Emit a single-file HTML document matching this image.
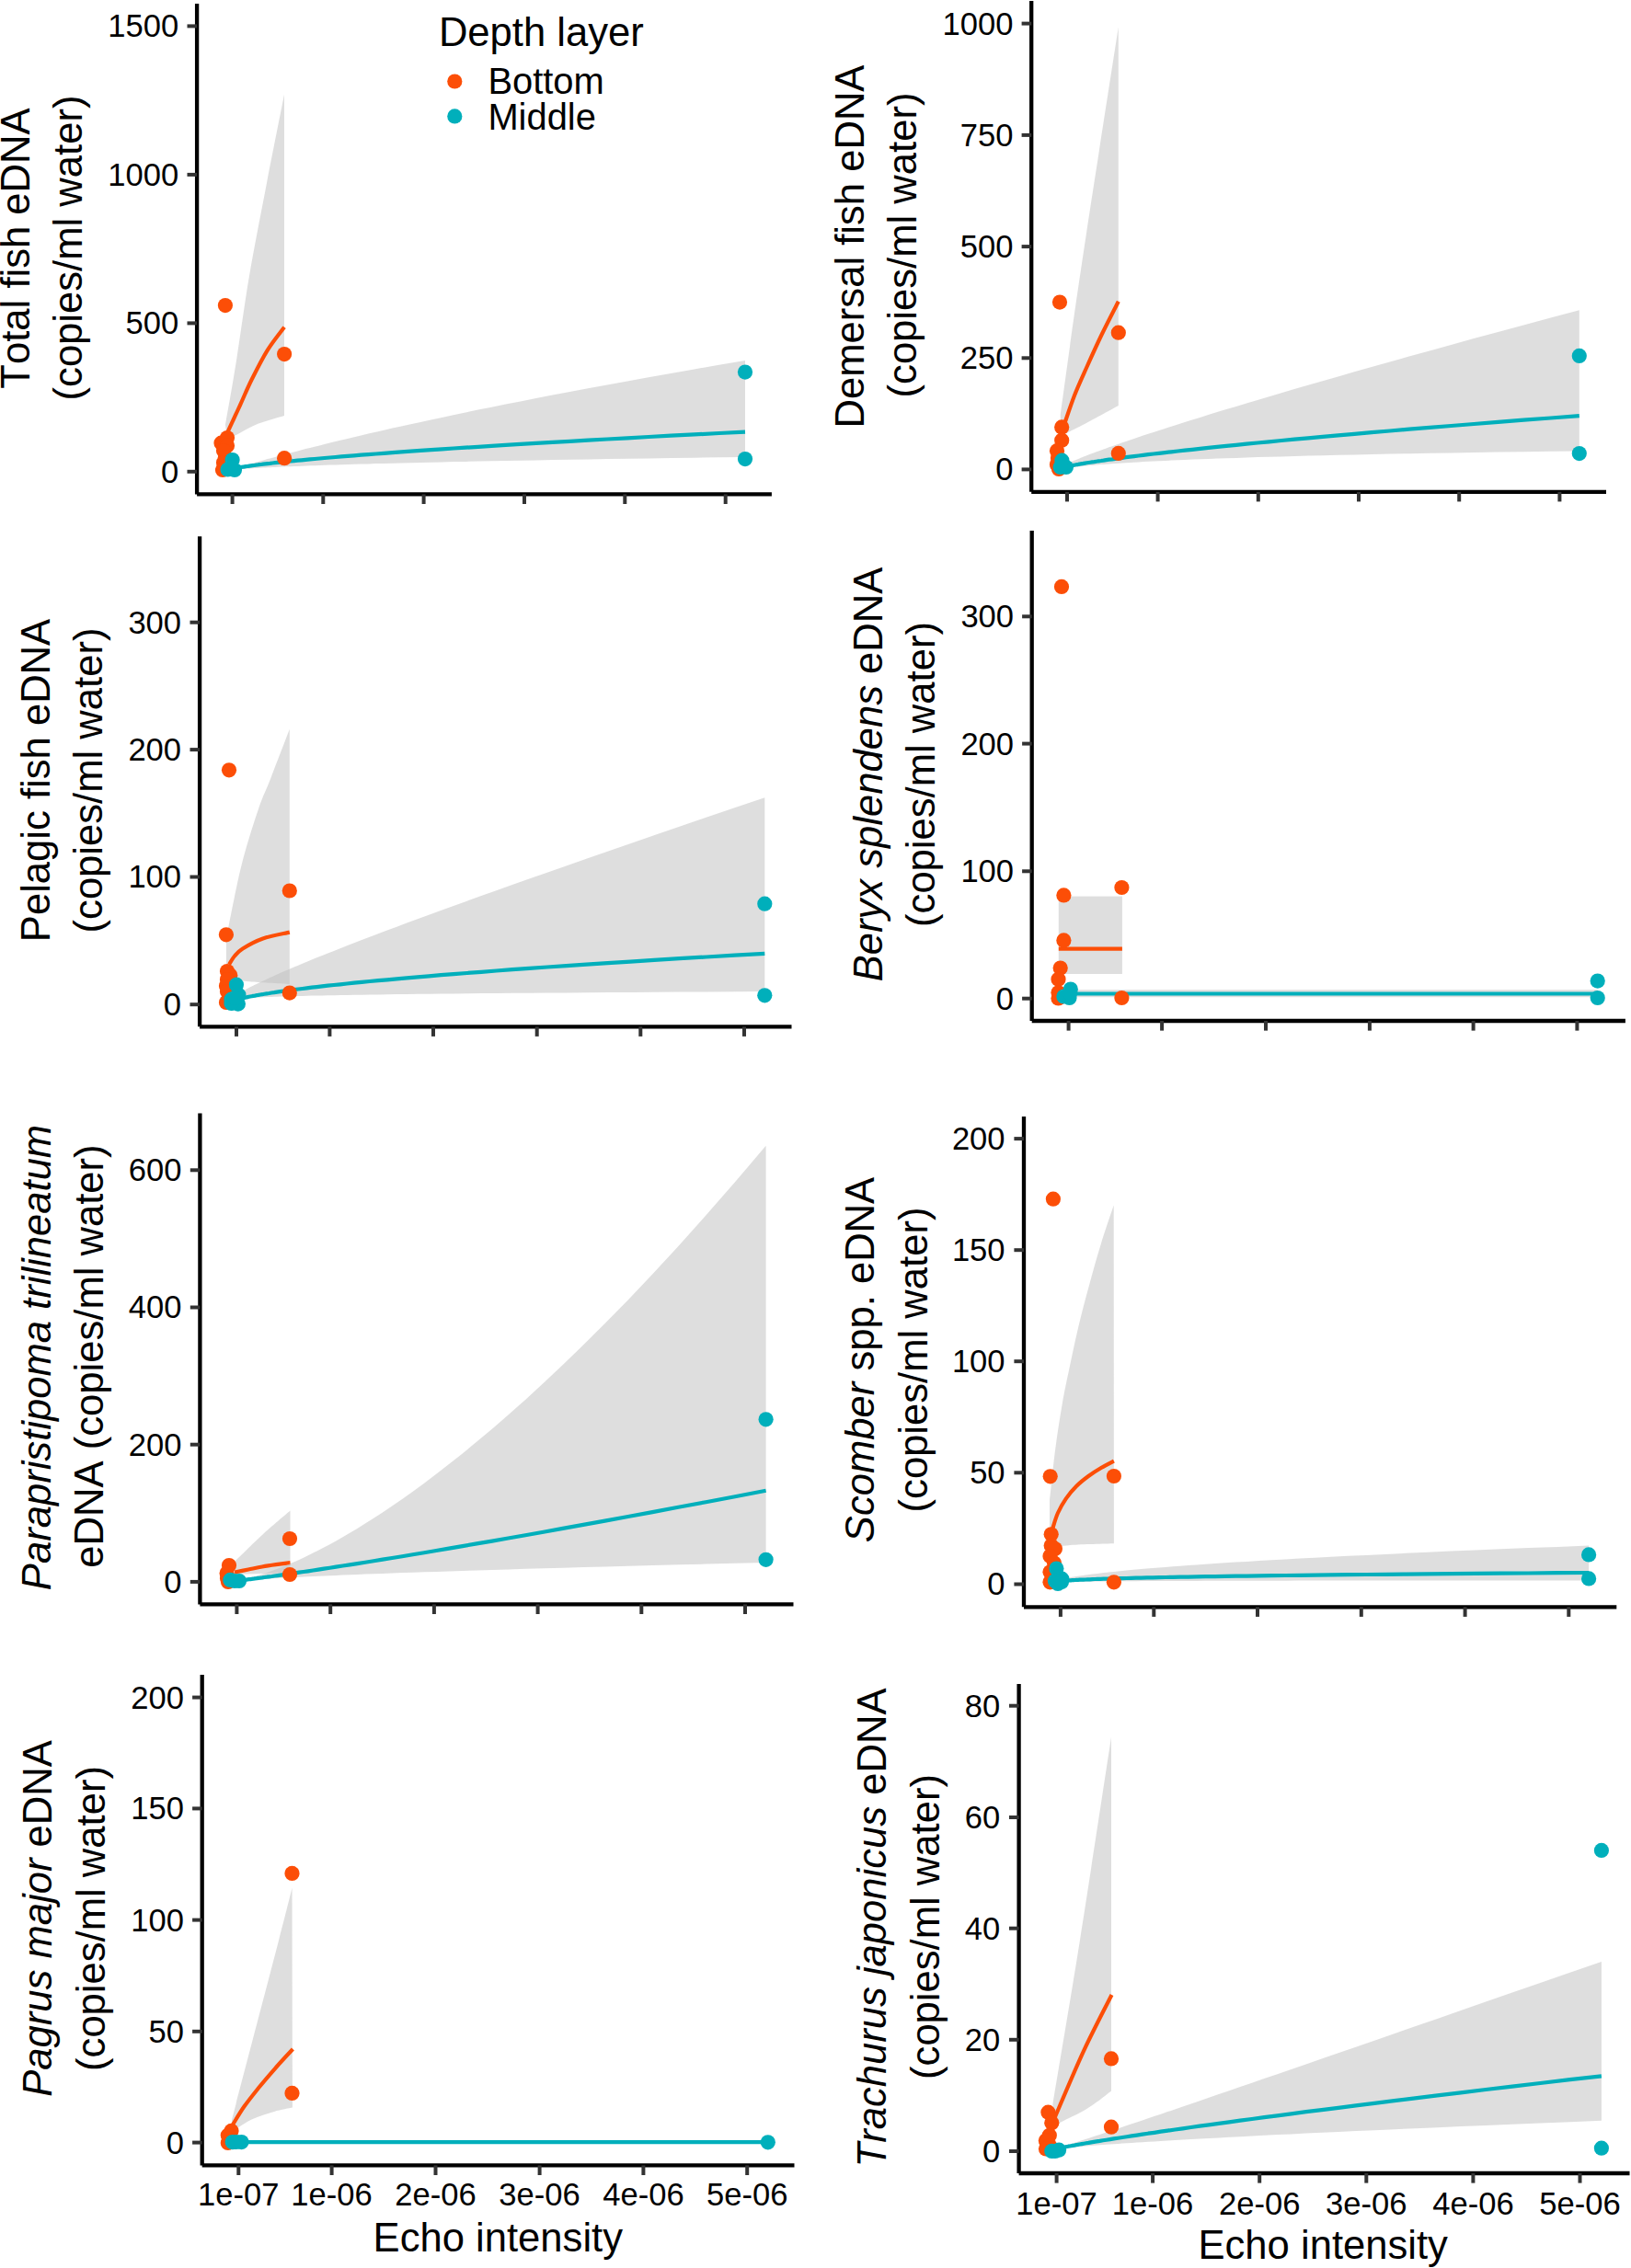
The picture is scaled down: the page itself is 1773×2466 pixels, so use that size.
<!DOCTYPE html>
<html lang="en">
<head>
<meta charset="utf-8">
<title>Fish eDNA vs echo intensity</title>
<style>
html,body{margin:0;padding:0;background:#fff;}
body{width:1773px;height:2466px;overflow:hidden;}
svg{display:block;font-kerning:none;}
</style>
</head>
<body>
<svg width="1773" height="2466" viewBox="0 0 1773 2466" font-family='"Liberation Sans", sans-serif' fill="#000">
<rect width="1773" height="2466" fill="#fff"/>
<g id="panel1">
<path d="M245 462 C247 450.3 252.7 419 257 392 C261.3 365 265.5 332.2 271 300 C276.5 267.8 283.7 231.8 290 199 C296.3 166.2 305.8 119 309 103 L309 452 C304.3 453.4 288.9 457.5 281 460.6 C273.1 463.7 267 467.6 261.3 470.5 C255.6 473.4 249.4 476.8 247 478 Z" fill="#BEBEBE" fill-opacity="0.5"/>
<path d="M246.6 471.7 C249.1 466.4 256.8 449.6 261.3 439.8 C265.8 430 268.7 422.6 273.6 412.8 C278.5 403 284.8 390.4 290.7 380.9 C296.6 371.4 306 359.9 309.1 355.7" fill="none" stroke="#FC4E07" stroke-width="4.2"/>
<path d="M252 510.2 L252.5 510 L253.1 509.9 L253.7 509.7 L254.3 509.5 L254.9 509.3 L255.6 509.1 L256.3 508.9 L257.1 508.7 L257.9 508.5 L258.7 508.2 L259.6 508 L260.5 507.7 L261.5 507.4 L262.5 507.1 L263.6 506.8 L264.7 506.5 L265.9 506.1 L267.2 505.8 L268.5 505.4 L269.9 505 L271.3 504.6 L272.9 504.2 L274.5 503.7 L276.2 503.2 L278 502.7 L279.9 502.2 L281.9 501.6 L283.9 501 L286.1 500.4 L288.5 499.8 L290.9 499.1 L293.5 498.4 L296.2 497.7 L299 496.9 L302 496.1 L305.1 495.2 L308.5 494.4 L311.9 493.4 L315.6 492.5 L319.5 491.5 L323.5 490.4 L327.8 489.3 L332.3 488.1 L337 486.9 L342 485.7 L347.3 484.4 L352.8 483 L358.6 481.6 L364.7 480.1 L371.1 478.5 L377.9 476.9 L385 475.2 L392.5 473.4 L400.4 471.6 L408.7 469.7 L417.4 467.7 L426.6 465.6 L436.3 463.5 L446.5 461.2 L457.2 458.9 L468.5 456.4 L480.4 453.9 L492.9 451.2 L506 448.5 L519.8 445.6 L534.4 442.7 L549.7 439.6 L565.8 436.4 L582.8 433 L600.7 429.6 L619.5 426 L639.3 422.3 L660.1 418.4 L682 414.4 L705 410.2 L729.3 405.9 L754.8 401.4 L781.7 396.8 L810 391.9 L810 497 L781.7 497.3 L754.8 497.7 L729.3 498.1 L705 498.4 L682 498.8 L660.1 499.1 L639.3 499.5 L619.5 499.8 L600.7 500.1 L582.8 500.4 L565.8 500.7 L549.7 501 L534.4 501.3 L519.8 501.6 L506 501.9 L492.9 502.1 L480.4 502.4 L468.5 502.7 L457.2 502.9 L446.5 503.2 L436.3 503.4 L426.6 503.7 L417.4 503.9 L408.7 504.1 L400.4 504.4 L392.5 504.6 L385 504.8 L377.9 505 L371.1 505.2 L364.7 505.4 L358.6 505.6 L352.8 505.8 L347.3 506 L342 506.2 L337 506.3 L332.3 506.5 L327.8 506.7 L323.5 506.9 L319.5 507 L315.6 507.2 L311.9 507.3 L308.5 507.5 L305.1 507.6 L302 507.8 L299 507.9 L296.2 508 L293.5 508.2 L290.9 508.3 L288.5 508.4 L286.1 508.6 L283.9 508.7 L281.9 508.8 L279.9 508.9 L278 509 L276.2 509.1 L274.5 509.2 L272.9 509.3 L271.3 509.4 L269.9 509.5 L268.5 509.6 L267.2 509.7 L265.9 509.8 L264.7 509.9 L263.6 510 L262.5 510.1 L261.5 510.1 L260.5 510.2 L259.6 510.3 L258.7 510.4 L257.9 510.4 L257.1 510.5 L256.3 510.6 L255.6 510.7 L254.9 510.7 L254.3 510.8 L253.7 510.8 L253.1 510.9 L252.5 511 L252 511 Z" fill="#BEBEBE" fill-opacity="0.5"/>
<path d="M252 509.7 L252.5 509.6 L253.1 509.5 L253.7 509.4 L254.3 509.3 L254.9 509.2 L255.6 509.1 L256.3 508.9 L257.1 508.8 L257.9 508.7 L258.7 508.5 L259.6 508.4 L260.5 508.2 L261.5 508.1 L262.5 507.9 L263.6 507.7 L264.7 507.6 L265.9 507.4 L267.2 507.2 L268.5 507 L269.9 506.8 L271.3 506.6 L272.9 506.4 L274.5 506.2 L276.2 506 L278 505.7 L279.9 505.5 L281.9 505.2 L283.9 505 L286.1 504.7 L288.5 504.4 L290.9 504.1 L293.5 503.9 L296.2 503.5 L299 503.2 L302 502.9 L305.1 502.6 L308.5 502.2 L311.9 501.9 L315.6 501.5 L319.5 501.1 L323.5 500.7 L327.8 500.3 L332.3 499.9 L337 499.4 L342 499 L347.3 498.5 L352.8 498 L358.6 497.5 L364.7 497 L371.1 496.4 L377.9 495.9 L385 495.3 L392.5 494.7 L400.4 494.1 L408.7 493.5 L417.4 492.8 L426.6 492.1 L436.3 491.4 L446.5 490.7 L457.2 489.9 L468.5 489.2 L480.4 488.4 L492.9 487.5 L506 486.7 L519.8 485.8 L534.4 484.9 L549.7 483.9 L565.8 482.9 L582.8 481.9 L600.7 480.9 L619.5 479.8 L639.3 478.6 L660.1 477.5 L682 476.3 L705 475 L729.3 473.7 L754.8 472.4 L781.7 471 L810 469.6" fill="none" stroke="#00AFBB" stroke-width="4.2" stroke-linejoin="round"/>
<circle cx="244.9" cy="332.1" r="8.1" fill="#FC4E07"/><circle cx="309.1" cy="385.1" r="8.1" fill="#FC4E07"/><circle cx="309.1" cy="498.2" r="8.1" fill="#FC4E07"/><circle cx="240.5" cy="481.7" r="8.1" fill="#FC4E07"/><circle cx="247" cy="476" r="8.1" fill="#FC4E07"/><circle cx="247" cy="484.4" r="8.1" fill="#FC4E07"/><circle cx="243" cy="490" r="8.1" fill="#FC4E07"/><circle cx="245" cy="497" r="8.1" fill="#FC4E07"/><circle cx="243" cy="503" r="8.1" fill="#FC4E07"/><circle cx="245" cy="508" r="8.1" fill="#FC4E07"/><circle cx="242" cy="511" r="8.1" fill="#FC4E07"/>
<circle cx="252.6" cy="500" r="8.1" fill="#00AFBB"/><circle cx="247.6" cy="510.5" r="8.1" fill="#00AFBB"/><circle cx="255" cy="511" r="8.1" fill="#00AFBB"/><circle cx="251" cy="508" r="8.1" fill="#00AFBB"/><circle cx="810" cy="404.6" r="8.1" fill="#00AFBB"/><circle cx="810" cy="499.1" r="8.1" fill="#00AFBB"/>
<line x1="214.1" y1="4" x2="214.1" y2="537.4" stroke="#000" stroke-width="4.3"/>
<line x1="214.1" y1="537.4" x2="838.9" y2="537.4" stroke="#000" stroke-width="4.3"/>
<line x1="203.5" y1="512.8" x2="214.1" y2="512.8" stroke="#333" stroke-width="4.0"/>
<line x1="203.5" y1="351.4" x2="214.1" y2="351.4" stroke="#333" stroke-width="4.0"/>
<line x1="203.5" y1="189.9" x2="214.1" y2="189.9" stroke="#333" stroke-width="4.0"/>
<line x1="203.5" y1="28.4" x2="214.1" y2="28.4" stroke="#333" stroke-width="4.0"/>
<line x1="252.6" y1="537.4" x2="252.6" y2="548" stroke="#333" stroke-width="4.0"/>
<line x1="351.3" y1="537.4" x2="351.3" y2="548" stroke="#333" stroke-width="4.0"/>
<line x1="460.6" y1="537.4" x2="460.6" y2="548" stroke="#333" stroke-width="4.0"/>
<line x1="570" y1="537.4" x2="570" y2="548" stroke="#333" stroke-width="4.0"/>
<line x1="679.3" y1="537.4" x2="679.3" y2="548" stroke="#333" stroke-width="4.0"/>
<line x1="788.7" y1="537.4" x2="788.7" y2="548" stroke="#333" stroke-width="4.0"/>
<text x="194.2" y="524.7" font-size="34.6" text-anchor="end">0</text>
<text x="194.2" y="363.3" font-size="34.6" text-anchor="end">500</text>
<text x="194.2" y="201.8" font-size="34.6" text-anchor="end">1000</text>
<text x="194.2" y="40.3" font-size="34.6" text-anchor="end">1500</text>
<text transform="translate(32 270) rotate(-90)" font-size="43.6" text-anchor="middle">Total fish eDNA</text>
<text transform="translate(89 269.5) rotate(-90)" font-size="43.6" text-anchor="middle">(copies/ml water)</text>
</g>
<g id="panel2">
<path d="M1152.7 452 C1154.4 439.5 1159.5 402.3 1163 377 C1166.5 351.7 1168.7 335.7 1174 300 C1179.3 264.3 1188 208.1 1195 163 C1202 117.9 1212.3 51.7 1215.8 29.4 L1215.8 441 C1210 444.2 1189.5 455.5 1181 460 C1172.5 464.5 1169.5 465.7 1165 468 C1160.5 470.3 1155.8 473 1154 474 Z" fill="#BEBEBE" fill-opacity="0.5"/>
<path d="M1156.9 461.5 C1158.8 456.2 1164 440.2 1168 430 C1172 419.8 1176 411.2 1181 400 C1186 388.8 1192.2 375 1198 363 C1203.8 351 1212.8 333.7 1215.8 327.8" fill="none" stroke="#FC4E07" stroke-width="4.2"/>
<path d="M1156 506.2 L1156.4 506 L1156.8 505.8 L1157.2 505.5 L1157.7 505.3 L1158.1 505.1 L1158.7 504.8 L1159.2 504.6 L1159.8 504.3 L1160.4 504 L1161 503.8 L1161.7 503.4 L1162.4 503.1 L1163.1 502.8 L1163.9 502.4 L1164.8 502.1 L1165.7 501.7 L1166.6 501.3 L1167.6 500.8 L1168.7 500.4 L1169.8 499.9 L1171 499.4 L1172.2 498.9 L1173.5 498.4 L1174.9 497.8 L1176.4 497.2 L1178 496.6 L1179.6 496 L1181.4 495.3 L1183.3 494.6 L1185.2 493.8 L1187.3 493 L1189.5 492.2 L1191.8 491.3 L1194.3 490.4 L1196.9 489.5 L1199.6 488.5 L1202.5 487.4 L1205.6 486.3 L1208.9 485.2 L1212.3 483.9 L1216 482.7 L1219.9 481.3 L1223.9 479.9 L1228.3 478.5 L1232.8 476.9 L1237.7 475.3 L1242.8 473.6 L1248.2 471.8 L1254 469.9 L1260 467.9 L1266.4 465.9 L1273.2 463.7 L1280.4 461.4 L1288 459 L1296 456.5 L1304.5 453.9 L1313.5 451.1 L1323.1 448.1 L1333.1 445.1 L1343.8 441.9 L1355.1 438.5 L1367 434.9 L1379.6 431.2 L1393 427.2 L1407.1 423.1 L1422 418.8 L1437.8 414.2 L1454.6 409.4 L1472.3 404.3 L1491 399 L1510.8 393.5 L1531.8 387.6 L1554 381.4 L1577.4 375 L1602.2 368.1 L1628.5 361 L1656.3 353.4 L1685.7 345.5 L1716.8 337.2 L1716.8 490.4 L1685.7 490.8 L1656.3 491.2 L1628.5 491.6 L1602.2 492 L1577.4 492.4 L1554 492.8 L1531.8 493.2 L1510.8 493.6 L1491 494 L1472.3 494.4 L1454.6 494.8 L1437.8 495.2 L1422 495.6 L1407.1 496 L1393 496.4 L1379.6 496.8 L1367 497.1 L1355.1 497.5 L1343.8 497.9 L1333.1 498.2 L1323.1 498.6 L1313.5 498.9 L1304.5 499.3 L1296 499.6 L1288 499.9 L1280.4 500.3 L1273.2 500.6 L1266.4 500.9 L1260 501.2 L1254 501.5 L1248.2 501.8 L1242.8 502.1 L1237.7 502.4 L1232.8 502.7 L1228.3 503 L1223.9 503.2 L1219.9 503.5 L1216 503.7 L1212.3 504 L1208.9 504.2 L1205.6 504.5 L1202.5 504.7 L1199.6 504.9 L1196.9 505.1 L1194.3 505.3 L1191.8 505.5 L1189.5 505.7 L1187.3 505.9 L1185.2 506.1 L1183.3 506.3 L1181.4 506.5 L1179.6 506.6 L1178 506.8 L1176.4 506.9 L1174.9 507.1 L1173.5 507.2 L1172.2 507.4 L1171 507.5 L1169.8 507.7 L1168.7 507.8 L1167.6 507.9 L1166.6 508 L1165.7 508.1 L1164.8 508.2 L1163.9 508.3 L1163.1 508.5 L1162.4 508.5 L1161.7 508.6 L1161 508.7 L1160.4 508.8 L1159.8 508.9 L1159.2 509 L1158.7 509 L1158.1 509.1 L1157.7 509.2 L1157.2 509.2 L1156.8 509.3 L1156.4 509.4 L1156 509.4 Z" fill="#BEBEBE" fill-opacity="0.5"/>
<path d="M1156 508.2 L1156.4 508.1 L1156.8 508 L1157.2 507.9 L1157.7 507.8 L1158.1 507.7 L1158.7 507.6 L1159.2 507.4 L1159.8 507.3 L1160.4 507.2 L1161 507 L1161.7 506.9 L1162.4 506.8 L1163.1 506.6 L1163.9 506.4 L1164.8 506.3 L1165.7 506.1 L1166.6 505.9 L1167.6 505.7 L1168.7 505.5 L1169.8 505.3 L1171 505.1 L1172.2 504.9 L1173.5 504.6 L1174.9 504.4 L1176.4 504.2 L1178 503.9 L1179.6 503.6 L1181.4 503.3 L1183.3 503 L1185.2 502.7 L1187.3 502.4 L1189.5 502.1 L1191.8 501.7 L1194.3 501.3 L1196.9 501 L1199.6 500.6 L1202.5 500.1 L1205.6 499.7 L1208.9 499.3 L1212.3 498.8 L1216 498.3 L1219.9 497.8 L1223.9 497.2 L1228.3 496.7 L1232.8 496.1 L1237.7 495.5 L1242.8 494.9 L1248.2 494.2 L1254 493.5 L1260 492.8 L1266.4 492.1 L1273.2 491.3 L1280.4 490.5 L1288 489.7 L1296 488.8 L1304.5 487.9 L1313.5 486.9 L1323.1 485.9 L1333.1 484.9 L1343.8 483.8 L1355.1 482.7 L1367 481.5 L1379.6 480.3 L1393 479 L1407.1 477.7 L1422 476.3 L1437.8 474.9 L1454.6 473.4 L1472.3 471.8 L1491 470.2 L1510.8 468.5 L1531.8 466.7 L1554 464.9 L1577.4 463 L1602.2 461 L1628.5 458.9 L1656.3 456.7 L1685.7 454.5 L1716.8 452.1" fill="none" stroke="#00AFBB" stroke-width="4.2" stroke-linejoin="round"/>
<circle cx="1152" cy="328.6" r="8.1" fill="#FC4E07"/><circle cx="1215.8" cy="361.7" r="8.1" fill="#FC4E07"/><circle cx="1215.8" cy="492.9" r="8.1" fill="#FC4E07"/><circle cx="1154.2" cy="464.4" r="8.1" fill="#FC4E07"/><circle cx="1154.2" cy="478.7" r="8.1" fill="#FC4E07"/><circle cx="1149" cy="490.2" r="8.1" fill="#FC4E07"/><circle cx="1150" cy="498" r="8.1" fill="#FC4E07"/><circle cx="1149" cy="505" r="8.1" fill="#FC4E07"/><circle cx="1151" cy="510" r="8.1" fill="#FC4E07"/>
<circle cx="1154.4" cy="500.7" r="8.1" fill="#00AFBB"/><circle cx="1158.9" cy="508" r="8.1" fill="#00AFBB"/><circle cx="1152.7" cy="508" r="8.1" fill="#00AFBB"/><circle cx="1716.8" cy="386.9" r="8.1" fill="#00AFBB"/><circle cx="1716.8" cy="493.1" r="8.1" fill="#00AFBB"/>
<line x1="1121.2" y1="1" x2="1121.2" y2="534.8" stroke="#000" stroke-width="4.3"/>
<line x1="1121.2" y1="534.8" x2="1746" y2="534.8" stroke="#000" stroke-width="4.3"/>
<line x1="1110.6" y1="510.4" x2="1121.2" y2="510.4" stroke="#333" stroke-width="4.0"/>
<line x1="1110.6" y1="389.3" x2="1121.2" y2="389.3" stroke="#333" stroke-width="4.0"/>
<line x1="1110.6" y1="268.1" x2="1121.2" y2="268.1" stroke="#333" stroke-width="4.0"/>
<line x1="1110.6" y1="146.9" x2="1121.2" y2="146.9" stroke="#333" stroke-width="4.0"/>
<line x1="1110.6" y1="25.6" x2="1121.2" y2="25.6" stroke="#333" stroke-width="4.0"/>
<line x1="1160" y1="534.8" x2="1160" y2="545.4" stroke="#333" stroke-width="4.0"/>
<line x1="1258.6" y1="534.8" x2="1258.6" y2="545.4" stroke="#333" stroke-width="4.0"/>
<line x1="1367.8" y1="534.8" x2="1367.8" y2="545.4" stroke="#333" stroke-width="4.0"/>
<line x1="1477" y1="534.8" x2="1477" y2="545.4" stroke="#333" stroke-width="4.0"/>
<line x1="1586.2" y1="534.8" x2="1586.2" y2="545.4" stroke="#333" stroke-width="4.0"/>
<line x1="1695.4" y1="534.8" x2="1695.4" y2="545.4" stroke="#333" stroke-width="4.0"/>
<text x="1101.4" y="522.3" font-size="34.6" text-anchor="end">0</text>
<text x="1101.4" y="401.2" font-size="34.6" text-anchor="end">250</text>
<text x="1101.4" y="280" font-size="34.6" text-anchor="end">500</text>
<text x="1101.4" y="158.8" font-size="34.6" text-anchor="end">750</text>
<text x="1101.4" y="37.5" font-size="34.6" text-anchor="end">1000</text>
<text transform="translate(938.8 268) rotate(-90)" font-size="43.6" text-anchor="middle">Demersal fish eDNA</text>
<text transform="translate(995.9 266.5) rotate(-90)" font-size="43.6" text-anchor="middle">(copies/ml water)</text>
</g>
<g id="panel3">
<path d="M245.9 1021.7 C246.8 1016.8 248.5 1006.3 251.5 992 C254.5 977.7 258.9 954.6 263.8 935.8 C268.7 917 275.9 894.4 281 879.4 C286.1 864.4 288.8 860.5 294.4 846 C300 831.5 311.4 801.6 314.8 792.7 L314.8 1070 C307.9 1069.6 285.1 1068.4 273.6 1067.5 C262.1 1066.6 250.5 1065.1 245.9 1064.6 Z" fill="#BEBEBE" fill-opacity="0.5"/>
<path d="M249 1048.7 C250 1047.2 252.5 1042.4 255 1039.5 C257.5 1036.6 258.7 1034.7 263.8 1031.5 C268.9 1028.3 277.3 1023.5 285.8 1020.5 C294.3 1017.5 310 1014.8 314.8 1013.6" fill="none" stroke="#FC4E07" stroke-width="4.2"/>
<path d="M252 1085.1 L252.4 1084.8 L252.8 1084.5 L253.2 1084.2 L253.6 1083.9 L254.1 1083.6 L254.6 1083.3 L255.1 1082.9 L255.6 1082.6 L256.2 1082.2 L256.9 1081.8 L257.5 1081.4 L258.2 1081 L258.9 1080.5 L259.7 1080.1 L260.5 1079.6 L261.4 1079.1 L262.4 1078.5 L263.3 1078 L264.4 1077.4 L265.5 1076.8 L266.6 1076.2 L267.9 1075.5 L269.2 1074.8 L270.6 1074.1 L272 1073.3 L273.6 1072.5 L275.2 1071.7 L277 1070.8 L278.8 1069.9 L280.8 1069 L282.9 1068 L285.1 1066.9 L287.4 1065.9 L289.9 1064.7 L292.5 1063.5 L295.2 1062.2 L298.1 1060.9 L301.2 1059.5 L304.5 1058.1 L308 1056.6 L311.7 1055 L315.6 1053.3 L319.7 1051.5 L324.1 1049.7 L328.7 1047.8 L333.6 1045.7 L338.8 1043.6 L344.3 1041.3 L350.2 1039 L356.4 1036.5 L362.9 1033.9 L369.8 1031.2 L377.2 1028.3 L384.9 1025.3 L393.2 1022.1 L401.9 1018.8 L411.1 1015.3 L420.9 1011.6 L431.3 1007.7 L442.2 1003.6 L453.9 999.3 L466.2 994.8 L479.2 990 L493 985 L507.7 979.7 L523.2 974.1 L539.6 968.2 L556.9 962.1 L575.3 955.5 L594.8 948.7 L615.5 941.4 L637.4 933.8 L660.5 925.7 L685.1 917.2 L711 908.3 L738.6 898.8 L767.7 888.8 L798.6 878.3 L831.3 867.2 L831.3 1078.1 L798.6 1078.3 L767.7 1078.4 L738.6 1078.6 L711 1078.8 L685.1 1078.9 L660.5 1079.1 L637.4 1079.2 L615.5 1079.4 L594.8 1079.5 L575.3 1079.7 L556.9 1079.8 L539.6 1080 L523.2 1080.1 L507.7 1080.3 L493 1080.4 L479.2 1080.6 L466.2 1080.7 L453.9 1080.8 L442.2 1081 L431.3 1081.1 L420.9 1081.3 L411.1 1081.4 L401.9 1081.5 L393.2 1081.7 L384.9 1081.8 L377.2 1081.9 L369.8 1082 L362.9 1082.2 L356.4 1082.3 L350.2 1082.4 L344.3 1082.5 L338.8 1082.6 L333.6 1082.8 L328.7 1082.9 L324.1 1083 L319.7 1083.1 L315.6 1083.2 L311.7 1083.3 L308 1083.4 L304.5 1083.6 L301.2 1083.7 L298.1 1083.8 L295.2 1083.9 L292.5 1084 L289.9 1084.1 L287.4 1084.2 L285.1 1084.3 L282.9 1084.4 L280.8 1084.5 L278.8 1084.6 L277 1084.7 L275.2 1084.8 L273.6 1084.9 L272 1085 L270.6 1085.1 L269.2 1085.2 L267.9 1085.2 L266.6 1085.3 L265.5 1085.4 L264.4 1085.5 L263.3 1085.6 L262.4 1085.7 L261.4 1085.8 L260.5 1085.8 L259.7 1085.9 L258.9 1086 L258.2 1086.1 L257.5 1086.2 L256.9 1086.3 L256.2 1086.3 L255.6 1086.4 L255.1 1086.5 L254.6 1086.6 L254.1 1086.6 L253.6 1086.7 L253.2 1086.8 L252.8 1086.8 L252.4 1086.9 L252 1087 Z" fill="#BEBEBE" fill-opacity="0.5"/>
<path d="M252 1088.5 L252.4 1088.4 L252.8 1088.3 L253.2 1088.1 L253.6 1088 L254.1 1087.8 L254.6 1087.7 L255.1 1087.5 L255.6 1087.4 L256.2 1087.2 L256.9 1087 L257.5 1086.8 L258.2 1086.6 L258.9 1086.4 L259.7 1086.2 L260.5 1086 L261.4 1085.8 L262.4 1085.6 L263.3 1085.4 L264.4 1085.1 L265.5 1084.9 L266.6 1084.6 L267.9 1084.4 L269.2 1084.1 L270.6 1083.8 L272 1083.5 L273.6 1083.2 L275.2 1082.9 L277 1082.6 L278.8 1082.2 L280.8 1081.9 L282.9 1081.5 L285.1 1081.2 L287.4 1080.8 L289.9 1080.4 L292.5 1080 L295.2 1079.5 L298.1 1079.1 L301.2 1078.6 L304.5 1078.2 L308 1077.7 L311.7 1077.2 L315.6 1076.6 L319.7 1076.1 L324.1 1075.5 L328.7 1075 L333.6 1074.4 L338.8 1073.7 L344.3 1073.1 L350.2 1072.4 L356.4 1071.7 L362.9 1071 L369.8 1070.3 L377.2 1069.5 L384.9 1068.7 L393.2 1067.9 L401.9 1067 L411.1 1066.2 L420.9 1065.3 L431.3 1064.3 L442.2 1063.3 L453.9 1062.3 L466.2 1061.3 L479.2 1060.2 L493 1059.1 L507.7 1058 L523.2 1056.8 L539.6 1055.5 L556.9 1054.2 L575.3 1052.9 L594.8 1051.5 L615.5 1050.1 L637.4 1048.7 L660.5 1047.1 L685.1 1045.6 L711 1043.9 L738.6 1042.2 L767.7 1040.5 L798.6 1038.7 L831.3 1036.8" fill="none" stroke="#00AFBB" stroke-width="4.2" stroke-linejoin="round"/>
<circle cx="249" cy="837.3" r="8.1" fill="#FC4E07"/><circle cx="314.8" cy="968.5" r="8.1" fill="#FC4E07"/><circle cx="245.9" cy="1016.3" r="8.1" fill="#FC4E07"/><circle cx="314.8" cy="1079.6" r="8.1" fill="#FC4E07"/><circle cx="247" cy="1056" r="8.1" fill="#FC4E07"/><circle cx="250.3" cy="1060.4" r="8.1" fill="#FC4E07"/><circle cx="247" cy="1065" r="8.1" fill="#FC4E07"/><circle cx="246" cy="1072" r="8.1" fill="#FC4E07"/><circle cx="247" cy="1078" r="8.1" fill="#FC4E07"/><circle cx="246" cy="1089.9" r="8.1" fill="#FC4E07"/>
<circle cx="256.9" cy="1070.7" r="8.1" fill="#00AFBB"/><circle cx="259.4" cy="1081.8" r="8.1" fill="#00AFBB"/><circle cx="251.5" cy="1086.7" r="8.1" fill="#00AFBB"/><circle cx="258.9" cy="1091.6" r="8.1" fill="#00AFBB"/><circle cx="251.5" cy="1091" r="8.1" fill="#00AFBB"/><circle cx="255" cy="1085" r="8.1" fill="#00AFBB"/><circle cx="831.3" cy="982.7" r="8.1" fill="#00AFBB"/><circle cx="831.3" cy="1082.3" r="8.1" fill="#00AFBB"/>
<line x1="217.1" y1="583.3" x2="217.1" y2="1116.3" stroke="#000" stroke-width="4.3"/>
<line x1="217.1" y1="1116.3" x2="860.5" y2="1116.3" stroke="#000" stroke-width="4.3"/>
<line x1="206.5" y1="1092.2" x2="217.1" y2="1092.2" stroke="#333" stroke-width="4.0"/>
<line x1="206.5" y1="953.5" x2="217.1" y2="953.5" stroke="#333" stroke-width="4.0"/>
<line x1="206.5" y1="815.1" x2="217.1" y2="815.1" stroke="#333" stroke-width="4.0"/>
<line x1="206.5" y1="676.7" x2="217.1" y2="676.7" stroke="#333" stroke-width="4.0"/>
<line x1="257" y1="1116.3" x2="257" y2="1126.9" stroke="#333" stroke-width="4.0"/>
<line x1="358.4" y1="1116.3" x2="358.4" y2="1126.9" stroke="#333" stroke-width="4.0"/>
<line x1="471" y1="1116.3" x2="471" y2="1126.9" stroke="#333" stroke-width="4.0"/>
<line x1="583.7" y1="1116.3" x2="583.7" y2="1126.9" stroke="#333" stroke-width="4.0"/>
<line x1="696.3" y1="1116.3" x2="696.3" y2="1126.9" stroke="#333" stroke-width="4.0"/>
<line x1="809" y1="1116.3" x2="809" y2="1126.9" stroke="#333" stroke-width="4.0"/>
<text x="197.1" y="1104.1" font-size="34.6" text-anchor="end">0</text>
<text x="197.1" y="965.4" font-size="34.6" text-anchor="end">100</text>
<text x="197.1" y="827" font-size="34.6" text-anchor="end">200</text>
<text x="197.1" y="688.6" font-size="34.6" text-anchor="end">300</text>
<text transform="translate(54.1 848.5) rotate(-90)" font-size="43.6" text-anchor="middle">Pelagic fish eDNA</text>
<text transform="translate(110.6 848.5) rotate(-90)" font-size="43.6" text-anchor="middle">(copies/ml water)</text>
</g>
<g id="panel4">
<rect x="1150.8" y="974.6" width="69.1" height="84.4" fill="#BEBEBE" fill-opacity="0.5"/>
<path d="M1150.8 1031.7 L1219.9 1031.7" fill="none" stroke="#FC4E07" stroke-width="4.2"/>
<rect x="1156" y="1076.2" width="580.7" height="8" fill="#BEBEBE" fill-opacity="0.5"/>
<path d="M1156 1080.5 L1736.7 1080.5" fill="none" stroke="#00AFBB" stroke-width="4.2"/>
<circle cx="1154" cy="637.9" r="8.1" fill="#FC4E07"/><circle cx="1156.4" cy="973.4" r="8.1" fill="#FC4E07"/><circle cx="1219.4" cy="965" r="8.1" fill="#FC4E07"/><circle cx="1156.4" cy="1022.4" r="8.1" fill="#FC4E07"/><circle cx="1152.7" cy="1052.6" r="8.1" fill="#FC4E07"/><circle cx="1150.5" cy="1064.8" r="8.1" fill="#FC4E07"/><circle cx="1150.5" cy="1079.3" r="8.1" fill="#FC4E07"/><circle cx="1150.5" cy="1085.4" r="8.1" fill="#FC4E07"/><circle cx="1219.4" cy="1085" r="8.1" fill="#FC4E07"/>
<circle cx="1163.8" cy="1075.6" r="8.1" fill="#00AFBB"/><circle cx="1156.4" cy="1083.5" r="8.1" fill="#00AFBB"/><circle cx="1162.5" cy="1085" r="8.1" fill="#00AFBB"/><circle cx="1163" cy="1080" r="8.1" fill="#00AFBB"/><circle cx="1736.7" cy="1066.6" r="8.1" fill="#00AFBB"/><circle cx="1736.7" cy="1085" r="8.1" fill="#00AFBB"/>
<line x1="1121.7" y1="576.9" x2="1121.7" y2="1110" stroke="#000" stroke-width="4.3"/>
<line x1="1121.7" y1="1110" x2="1766.9" y2="1110" stroke="#000" stroke-width="4.3"/>
<line x1="1111.1" y1="1085.7" x2="1121.7" y2="1085.7" stroke="#333" stroke-width="4.0"/>
<line x1="1111.1" y1="947.3" x2="1121.7" y2="947.3" stroke="#333" stroke-width="4.0"/>
<line x1="1111.1" y1="808.6" x2="1121.7" y2="808.6" stroke="#333" stroke-width="4.0"/>
<line x1="1111.1" y1="670.3" x2="1121.7" y2="670.3" stroke="#333" stroke-width="4.0"/>
<line x1="1161.6" y1="1110" x2="1161.6" y2="1120.6" stroke="#333" stroke-width="4.0"/>
<line x1="1263.1" y1="1110" x2="1263.1" y2="1120.6" stroke="#333" stroke-width="4.0"/>
<line x1="1376" y1="1110" x2="1376" y2="1120.6" stroke="#333" stroke-width="4.0"/>
<line x1="1488.9" y1="1110" x2="1488.9" y2="1120.6" stroke="#333" stroke-width="4.0"/>
<line x1="1601.6" y1="1110" x2="1601.6" y2="1120.6" stroke="#333" stroke-width="4.0"/>
<line x1="1714.4" y1="1110" x2="1714.4" y2="1120.6" stroke="#333" stroke-width="4.0"/>
<text x="1102.1" y="1097.6" font-size="34.6" text-anchor="end">0</text>
<text x="1102.1" y="959.2" font-size="34.6" text-anchor="end">100</text>
<text x="1102.1" y="820.5" font-size="34.6" text-anchor="end">200</text>
<text x="1102.1" y="682.2" font-size="34.6" text-anchor="end">300</text>
<text transform="translate(958.8 842) rotate(-90)" font-size="43.6" text-anchor="middle"><tspan font-style="italic">Beryx splendens</tspan> eDNA</text>
<text transform="translate(1016.2 842) rotate(-90)" font-size="43.6" text-anchor="middle">(copies/ml water)</text>
</g>
<g id="panel5">
<path d="M255 1698 C260 1693.2 274.9 1678.2 285 1669 C295.1 1659.8 310.4 1647 315.5 1642.6 L315.5 1710 L255 1712 Z" fill="#BEBEBE" fill-opacity="0.5"/>
<path d="M255 1709.5 C257.5 1709 265 1707.5 270 1706.5 C275 1705.5 280 1704.4 285 1703.5 C290 1702.6 294.9 1701.9 300 1701.2 C305.1 1700.5 312.9 1699.5 315.5 1699.2" fill="none" stroke="#FC4E07" stroke-width="4.2"/>
<path d="M252 1719.5 L252.3 1719.4 L252.7 1719.4 L253.1 1719.3 L253.5 1719.3 L253.9 1719.2 L254.3 1719.2 L254.8 1719.1 L255.3 1719 L255.9 1718.9 L256.4 1718.8 L257 1718.7 L257.7 1718.6 L258.4 1718.5 L259.1 1718.4 L259.8 1718.2 L260.7 1718.1 L261.5 1717.9 L262.4 1717.7 L263.4 1717.5 L264.4 1717.3 L265.5 1717.1 L266.7 1716.8 L267.9 1716.5 L269.2 1716.2 L270.6 1715.8 L272.1 1715.5 L273.6 1715 L275.3 1714.6 L277 1714.1 L278.9 1713.6 L280.9 1713 L282.9 1712.3 L285.2 1711.6 L287.5 1710.8 L290 1710 L292.7 1709.1 L295.5 1708.1 L298.5 1707 L301.6 1705.8 L305 1704.5 L308.5 1703.1 L312.3 1701.5 L316.3 1699.8 L320.6 1697.9 L325.1 1695.9 L329.9 1693.7 L334.9 1691.3 L340.3 1688.6 L346 1685.7 L352.1 1682.6 L358.5 1679.2 L365.3 1675.4 L372.6 1671.3 L380.3 1666.8 L388.4 1661.9 L397 1656.6 L406.2 1650.8 L415.9 1644.4 L426.2 1637.5 L437.2 1629.9 L448.8 1621.7 L461.1 1612.7 L474.2 1602.8 L488 1592.1 L502.7 1580.4 L518.3 1567.6 L534.9 1553.7 L552.4 1538.5 L571.1 1521.9 L590.8 1503.8 L611.8 1484 L634 1462.5 L657.6 1439 L682.7 1413.4 L709.2 1385.4 L737.4 1354.9 L767.3 1321.6 L799 1285.3 L832.6 1245.8 L832.6 1699 L799 1699.8 L767.3 1700.6 L737.4 1701.3 L709.2 1702 L682.7 1702.7 L657.6 1703.4 L634 1704 L611.8 1704.7 L590.8 1705.2 L571.1 1705.8 L552.4 1706.4 L534.9 1706.9 L518.3 1707.4 L502.7 1707.9 L488 1708.4 L474.2 1708.9 L461.1 1709.3 L448.8 1709.7 L437.2 1710.1 L426.2 1710.5 L415.9 1710.9 L406.2 1711.3 L397 1711.6 L388.4 1712 L380.3 1712.3 L372.6 1712.6 L365.3 1712.9 L358.5 1713.2 L352.1 1713.5 L346 1713.7 L340.3 1714 L334.9 1714.3 L329.9 1714.5 L325.1 1714.7 L320.6 1714.9 L316.3 1715.1 L312.3 1715.4 L308.5 1715.5 L305 1715.7 L301.6 1715.9 L298.5 1716.1 L295.5 1716.2 L292.7 1716.4 L290 1716.6 L287.5 1716.7 L285.2 1716.8 L282.9 1717 L280.9 1717.1 L278.9 1717.2 L277 1717.3 L275.3 1717.5 L273.6 1717.6 L272.1 1717.7 L270.6 1717.8 L269.2 1717.9 L267.9 1718 L266.7 1718 L265.5 1718.1 L264.4 1718.2 L263.4 1718.3 L262.4 1718.4 L261.5 1718.4 L260.7 1718.5 L259.8 1718.6 L259.1 1718.6 L258.4 1718.7 L257.7 1718.7 L257 1718.8 L256.4 1718.8 L255.9 1718.9 L255.3 1718.9 L254.8 1719 L254.3 1719 L253.9 1719.1 L253.5 1719.1 L253.1 1719.1 L252.7 1719.2 L252.3 1719.2 L252 1719.2 Z" fill="#BEBEBE" fill-opacity="0.5"/>
<path d="M252 1719.4 L252.3 1719.4 L252.7 1719.3 L253.1 1719.3 L253.5 1719.2 L253.9 1719.2 L254.3 1719.2 L254.8 1719.1 L255.3 1719 L255.9 1719 L256.4 1718.9 L257 1718.9 L257.7 1718.8 L258.4 1718.7 L259.1 1718.6 L259.8 1718.5 L260.7 1718.4 L261.5 1718.3 L262.4 1718.2 L263.4 1718.1 L264.4 1718 L265.5 1717.9 L266.7 1717.7 L267.9 1717.6 L269.2 1717.4 L270.6 1717.2 L272.1 1717.1 L273.6 1716.9 L275.3 1716.7 L277 1716.4 L278.9 1716.2 L280.9 1715.9 L282.9 1715.7 L285.2 1715.4 L287.5 1715 L290 1714.7 L292.7 1714.3 L295.5 1714 L298.5 1713.5 L301.6 1713.1 L305 1712.6 L308.5 1712.1 L312.3 1711.6 L316.3 1711 L320.6 1710.4 L325.1 1709.7 L329.9 1709 L334.9 1708.3 L340.3 1707.5 L346 1706.6 L352.1 1705.7 L358.5 1704.7 L365.3 1703.7 L372.6 1702.5 L380.3 1701.3 L388.4 1700.1 L397 1698.7 L406.2 1697.2 L415.9 1695.6 L426.2 1694 L437.2 1692.2 L448.8 1690.2 L461.1 1688.2 L474.2 1686 L488 1683.6 L502.7 1681.1 L518.3 1678.4 L534.9 1675.6 L552.4 1672.5 L571.1 1669.2 L590.8 1665.7 L611.8 1661.9 L634 1657.9 L657.6 1653.6 L682.7 1649 L709.2 1644.1 L737.4 1638.8 L767.3 1633.2 L799 1627.2 L832.6 1620.8" fill="none" stroke="#00AFBB" stroke-width="4.2" stroke-linejoin="round"/>
<circle cx="315" cy="1673" r="8.1" fill="#FC4E07"/><circle cx="315" cy="1712" r="8.1" fill="#FC4E07"/><circle cx="249" cy="1702" r="8.1" fill="#FC4E07"/><circle cx="246.6" cy="1710.5" r="8.1" fill="#FC4E07"/><circle cx="247" cy="1716" r="8.1" fill="#FC4E07"/><circle cx="248" cy="1720" r="8.1" fill="#FC4E07"/>
<circle cx="250.3" cy="1717.9" r="8.1" fill="#00AFBB"/><circle cx="260" cy="1719" r="8.1" fill="#00AFBB"/><circle cx="255" cy="1719" r="8.1" fill="#00AFBB"/><circle cx="832.6" cy="1543.3" r="8.1" fill="#00AFBB"/><circle cx="832.6" cy="1695.8" r="8.1" fill="#00AFBB"/>
<line x1="217.4" y1="1210.6" x2="217.4" y2="1744.4" stroke="#000" stroke-width="4.3"/>
<line x1="217.4" y1="1744.4" x2="862.5" y2="1744.4" stroke="#000" stroke-width="4.3"/>
<line x1="206.8" y1="1719.9" x2="217.4" y2="1719.9" stroke="#333" stroke-width="4.0"/>
<line x1="206.8" y1="1570.7" x2="217.4" y2="1570.7" stroke="#333" stroke-width="4.0"/>
<line x1="206.8" y1="1421.5" x2="217.4" y2="1421.5" stroke="#333" stroke-width="4.0"/>
<line x1="206.8" y1="1272.3" x2="217.4" y2="1272.3" stroke="#333" stroke-width="4.0"/>
<line x1="257.4" y1="1744.4" x2="257.4" y2="1755" stroke="#333" stroke-width="4.0"/>
<line x1="359.2" y1="1744.4" x2="359.2" y2="1755" stroke="#333" stroke-width="4.0"/>
<line x1="471.9" y1="1744.4" x2="471.9" y2="1755" stroke="#333" stroke-width="4.0"/>
<line x1="584.6" y1="1744.4" x2="584.6" y2="1755" stroke="#333" stroke-width="4.0"/>
<line x1="697.3" y1="1744.4" x2="697.3" y2="1755" stroke="#333" stroke-width="4.0"/>
<line x1="810" y1="1744.4" x2="810" y2="1755" stroke="#333" stroke-width="4.0"/>
<text x="197.4" y="1731.8" font-size="34.6" text-anchor="end">0</text>
<text x="197.4" y="1582.6" font-size="34.6" text-anchor="end">200</text>
<text x="197.4" y="1433.4" font-size="34.6" text-anchor="end">400</text>
<text x="197.4" y="1284.2" font-size="34.6" text-anchor="end">600</text>
<text transform="translate(54.7 1476) rotate(-90)" font-size="43.6" text-anchor="middle"><tspan font-style="italic">Parapristipoma trilineatum</tspan></text>
<text transform="translate(112.1 1474.5) rotate(-90)" font-size="43.6" text-anchor="middle">eDNA (copies/ml water)</text>
</g>
<g id="panel6">
<path d="M1141 1632 C1142 1623 1144.7 1595.2 1146.9 1578 C1149.1 1560.8 1151.8 1543.7 1154.3 1529 C1156.8 1514.3 1159 1504.2 1162 1490 C1165 1475.8 1168.3 1459.7 1172 1444 C1175.7 1428.3 1180.2 1411.3 1184.4 1396 C1188.6 1380.7 1192.6 1366.3 1197 1352 C1201.4 1337.7 1208.4 1317.3 1210.7 1310.4 L1210.9 1678.2 C1203 1678.5 1175.2 1679 1163.6 1679.9 C1151.9 1680.8 1144.8 1682.9 1141 1683.5 Z" fill="#BEBEBE" fill-opacity="0.5"/>
<path d="M1144.4 1661.5 C1145.3 1658.8 1147.6 1650.3 1150 1645 C1152.4 1639.7 1155.4 1634.4 1158.7 1629.6 C1162 1624.8 1165.9 1620.1 1170 1616 C1174.1 1611.9 1178.7 1608.3 1183.2 1605 C1187.7 1601.7 1192.4 1598.7 1197 1596 C1201.6 1593.3 1208.6 1589.8 1210.9 1588.6" fill="none" stroke="#FC4E07" stroke-width="4.2"/>
<path d="M1147 1719 L1147.3 1718.9 L1147.7 1718.7 L1148.1 1718.6 L1148.5 1718.5 L1148.9 1718.4 L1149.3 1718.2 L1149.8 1718.1 L1150.3 1718 L1150.8 1717.8 L1151.4 1717.7 L1152 1717.5 L1152.6 1717.4 L1153.3 1717.2 L1154 1717 L1154.8 1716.8 L1155.6 1716.7 L1156.5 1716.5 L1157.4 1716.3 L1158.3 1716.1 L1159.4 1715.9 L1160.4 1715.7 L1161.6 1715.5 L1162.8 1715.2 L1164.1 1715 L1165.5 1714.8 L1167 1714.5 L1168.5 1714.3 L1170.1 1714 L1171.9 1713.7 L1173.7 1713.4 L1175.7 1713.2 L1177.8 1712.9 L1180 1712.6 L1182.3 1712.2 L1184.8 1711.9 L1187.5 1711.6 L1190.3 1711.2 L1193.2 1710.9 L1196.4 1710.5 L1199.7 1710.1 L1203.3 1709.7 L1207.1 1709.3 L1211 1708.9 L1215.3 1708.5 L1219.8 1708 L1224.6 1707.6 L1229.6 1707.1 L1235 1706.6 L1240.7 1706.1 L1246.7 1705.6 L1253.1 1705 L1260 1704.5 L1267.2 1703.9 L1274.8 1703.3 L1283 1702.7 L1291.6 1702.1 L1300.7 1701.4 L1310.5 1700.8 L1320.8 1700.1 L1331.7 1699.3 L1343.3 1698.6 L1355.6 1697.9 L1368.6 1697.1 L1382.5 1696.3 L1397.2 1695.4 L1412.8 1694.6 L1429.3 1693.7 L1446.9 1692.8 L1465.5 1691.8 L1485.2 1690.9 L1506.2 1689.9 L1528.4 1688.8 L1552 1687.8 L1577.1 1686.6 L1603.6 1685.5 L1631.8 1684.3 L1661.7 1683.1 L1693.4 1681.9 L1727.1 1680.6 L1727.1 1718.4 L1693.4 1718.4 L1661.7 1718.4 L1631.8 1718.4 L1603.6 1718.5 L1577.1 1718.5 L1552 1718.5 L1528.4 1718.5 L1506.2 1718.5 L1485.2 1718.5 L1465.5 1718.6 L1446.9 1718.6 L1429.3 1718.6 L1412.8 1718.6 L1397.2 1718.7 L1382.5 1718.7 L1368.6 1718.7 L1355.6 1718.7 L1343.3 1718.8 L1331.7 1718.8 L1320.8 1718.8 L1310.5 1718.8 L1300.7 1718.9 L1291.6 1718.9 L1283 1718.9 L1274.8 1719 L1267.2 1719 L1260 1719 L1253.1 1719.1 L1246.7 1719.1 L1240.7 1719.1 L1235 1719.2 L1229.6 1719.2 L1224.6 1719.2 L1219.8 1719.3 L1215.3 1719.3 L1211 1719.4 L1207.1 1719.4 L1203.3 1719.4 L1199.7 1719.5 L1196.4 1719.5 L1193.2 1719.5 L1190.3 1719.6 L1187.5 1719.6 L1184.8 1719.7 L1182.3 1719.7 L1180 1719.7 L1177.8 1719.8 L1175.7 1719.8 L1173.7 1719.9 L1171.9 1719.9 L1170.1 1719.9 L1168.5 1720 L1167 1720 L1165.5 1720.1 L1164.1 1720.1 L1162.8 1720.1 L1161.6 1720.2 L1160.4 1720.2 L1159.4 1720.3 L1158.3 1720.3 L1157.4 1720.3 L1156.5 1720.4 L1155.6 1720.4 L1154.8 1720.5 L1154 1720.5 L1153.3 1720.5 L1152.6 1720.6 L1152 1720.6 L1151.4 1720.6 L1150.8 1720.7 L1150.3 1720.7 L1149.8 1720.8 L1149.3 1720.8 L1148.9 1720.8 L1148.5 1720.9 L1148.1 1720.9 L1147.7 1720.9 L1147.3 1721 L1147 1721 Z" fill="#BEBEBE" fill-opacity="0.5"/>
<path d="M1147 1719.9 L1147.3 1719.8 L1147.7 1719.8 L1148.1 1719.7 L1148.5 1719.7 L1148.9 1719.6 L1149.3 1719.5 L1149.8 1719.5 L1150.3 1719.4 L1150.8 1719.4 L1151.4 1719.3 L1152 1719.2 L1152.6 1719.2 L1153.3 1719.1 L1154 1719 L1154.8 1719 L1155.6 1718.9 L1156.5 1718.8 L1157.4 1718.7 L1158.3 1718.7 L1159.4 1718.6 L1160.4 1718.5 L1161.6 1718.4 L1162.8 1718.4 L1164.1 1718.3 L1165.5 1718.2 L1167 1718.1 L1168.5 1718 L1170.1 1717.9 L1171.9 1717.8 L1173.7 1717.7 L1175.7 1717.6 L1177.8 1717.6 L1180 1717.5 L1182.3 1717.4 L1184.8 1717.3 L1187.5 1717.1 L1190.3 1717 L1193.2 1716.9 L1196.4 1716.8 L1199.7 1716.7 L1203.3 1716.6 L1207.1 1716.5 L1211 1716.4 L1215.3 1716.2 L1219.8 1716.1 L1224.6 1716 L1229.6 1715.8 L1235 1715.7 L1240.7 1715.6 L1246.7 1715.4 L1253.1 1715.3 L1260 1715.2 L1267.2 1715 L1274.8 1714.9 L1283 1714.7 L1291.6 1714.6 L1300.7 1714.4 L1310.5 1714.2 L1320.8 1714.1 L1331.7 1713.9 L1343.3 1713.7 L1355.6 1713.6 L1368.6 1713.4 L1382.5 1713.2 L1397.2 1713 L1412.8 1712.8 L1429.3 1712.6 L1446.9 1712.4 L1465.5 1712.2 L1485.2 1712 L1506.2 1711.8 L1528.4 1711.6 L1552 1711.4 L1577.1 1711.2 L1603.6 1710.9 L1631.8 1710.7 L1661.7 1710.5 L1693.4 1710.2 L1727.1 1710" fill="none" stroke="#00AFBB" stroke-width="4.2" stroke-linejoin="round"/>
<circle cx="1144.9" cy="1303.7" r="8.1" fill="#FC4E07"/><circle cx="1141.7" cy="1605.3" r="8.1" fill="#FC4E07"/><circle cx="1210.9" cy="1605" r="8.1" fill="#FC4E07"/><circle cx="1210.9" cy="1720.3" r="8.1" fill="#FC4E07"/><circle cx="1142.7" cy="1668.3" r="8.1" fill="#FC4E07"/><circle cx="1142.7" cy="1680.6" r="8.1" fill="#FC4E07"/><circle cx="1146.9" cy="1684" r="8.1" fill="#FC4E07"/><circle cx="1141.5" cy="1692" r="8.1" fill="#FC4E07"/><circle cx="1146" cy="1699.5" r="8.1" fill="#FC4E07"/><circle cx="1141.5" cy="1709.3" r="8.1" fill="#FC4E07"/><circle cx="1141.5" cy="1720.3" r="8.1" fill="#FC4E07"/>
<circle cx="1148.4" cy="1705.6" r="8.1" fill="#00AFBB"/><circle cx="1154.3" cy="1716.7" r="8.1" fill="#00AFBB"/><circle cx="1146.9" cy="1719" r="8.1" fill="#00AFBB"/><circle cx="1154" cy="1720" r="8.1" fill="#00AFBB"/><circle cx="1150" cy="1722" r="8.1" fill="#00AFBB"/><circle cx="1727.1" cy="1690.4" r="8.1" fill="#00AFBB"/><circle cx="1727.1" cy="1716.4" r="8.1" fill="#00AFBB"/>
<line x1="1113" y1="1214" x2="1113" y2="1747.3" stroke="#000" stroke-width="4.3"/>
<line x1="1113" y1="1747.3" x2="1757.3" y2="1747.3" stroke="#000" stroke-width="4.3"/>
<line x1="1102.4" y1="1722.5" x2="1113" y2="1722.5" stroke="#333" stroke-width="4.0"/>
<line x1="1102.4" y1="1601.3" x2="1113" y2="1601.3" stroke="#333" stroke-width="4.0"/>
<line x1="1102.4" y1="1480.2" x2="1113" y2="1480.2" stroke="#333" stroke-width="4.0"/>
<line x1="1102.4" y1="1359.2" x2="1113" y2="1359.2" stroke="#333" stroke-width="4.0"/>
<line x1="1102.4" y1="1238.1" x2="1113" y2="1238.1" stroke="#333" stroke-width="4.0"/>
<line x1="1152.9" y1="1747.3" x2="1152.9" y2="1757.9" stroke="#333" stroke-width="4.0"/>
<line x1="1254.3" y1="1747.3" x2="1254.3" y2="1757.9" stroke="#333" stroke-width="4.0"/>
<line x1="1367" y1="1747.3" x2="1367" y2="1757.9" stroke="#333" stroke-width="4.0"/>
<line x1="1479.8" y1="1747.3" x2="1479.8" y2="1757.9" stroke="#333" stroke-width="4.0"/>
<line x1="1592.6" y1="1747.3" x2="1592.6" y2="1757.9" stroke="#333" stroke-width="4.0"/>
<line x1="1705.3" y1="1747.3" x2="1705.3" y2="1757.9" stroke="#333" stroke-width="4.0"/>
<text x="1092.6" y="1734.4" font-size="34.6" text-anchor="end">0</text>
<text x="1092.6" y="1613.2" font-size="34.6" text-anchor="end">50</text>
<text x="1092.6" y="1492.1" font-size="34.6" text-anchor="end">100</text>
<text x="1092.6" y="1371.1" font-size="34.6" text-anchor="end">150</text>
<text x="1092.6" y="1250" font-size="34.6" text-anchor="end">200</text>
<text transform="translate(950 1478.5) rotate(-90)" font-size="43.6" text-anchor="middle"><tspan font-style="italic">Scomber</tspan> spp. eDNA</text>
<text transform="translate(1007.7 1478.5) rotate(-90)" font-size="43.6" text-anchor="middle">(copies/ml water)</text>
</g>
<g id="panel7">
<path d="M252 2305 C260.5 2272.5 292.1 2152 303 2110 C313.9 2068 315.1 2062.3 317.5 2052.8 L317.9 2291.6 C314.6 2292.3 305.4 2293.8 298 2296 C290.6 2298.2 281.3 2300.9 273.6 2304.6 C265.9 2308.3 255.6 2315.8 252 2318 Z" fill="#BEBEBE" fill-opacity="0.5"/>
<path d="M252.7 2310.7 C254.8 2307.4 260.3 2297.7 265 2291 C269.7 2284.3 275.2 2277.5 281 2270.3 C286.8 2263.1 293.8 2255.1 300 2248 C306.2 2240.9 315.3 2231.3 318.4 2228" fill="none" stroke="#FC4E07" stroke-width="4.2"/>
<path d="M257 2329.1 L834.8 2329.1" fill="none" stroke="#00AFBB" stroke-width="4.2"/>
<circle cx="317.5" cy="2036.9" r="8.1" fill="#FC4E07"/><circle cx="317.5" cy="2275.9" r="8.1" fill="#FC4E07"/><circle cx="251.5" cy="2316.9" r="8.1" fill="#FC4E07"/><circle cx="247.8" cy="2321.8" r="8.1" fill="#FC4E07"/><circle cx="251" cy="2325" r="8.1" fill="#FC4E07"/><circle cx="247.8" cy="2329.9" r="8.1" fill="#FC4E07"/>
<circle cx="252.7" cy="2329.1" r="8.1" fill="#00AFBB"/><circle cx="257" cy="2329" r="8.1" fill="#00AFBB"/><circle cx="262.5" cy="2329.1" r="8.1" fill="#00AFBB"/><circle cx="834.8" cy="2329.3" r="8.1" fill="#00AFBB"/>
<line x1="219.7" y1="1821" x2="219.7" y2="2354.4" stroke="#000" stroke-width="4.3"/>
<line x1="219.7" y1="2354.4" x2="863.5" y2="2354.4" stroke="#000" stroke-width="4.3"/>
<line x1="209.1" y1="2329.6" x2="219.7" y2="2329.6" stroke="#333" stroke-width="4.0"/>
<line x1="209.1" y1="2208.8" x2="219.7" y2="2208.8" stroke="#333" stroke-width="4.0"/>
<line x1="209.1" y1="2087.6" x2="219.7" y2="2087.6" stroke="#333" stroke-width="4.0"/>
<line x1="209.1" y1="1966.4" x2="219.7" y2="1966.4" stroke="#333" stroke-width="4.0"/>
<line x1="209.1" y1="1845.6" x2="219.7" y2="1845.6" stroke="#333" stroke-width="4.0"/>
<line x1="259.3" y1="2354.4" x2="259.3" y2="2365" stroke="#333" stroke-width="4.0"/>
<line x1="360.6" y1="2354.4" x2="360.6" y2="2365" stroke="#333" stroke-width="4.0"/>
<line x1="473.5" y1="2354.4" x2="473.5" y2="2365" stroke="#333" stroke-width="4.0"/>
<line x1="586.6" y1="2354.4" x2="586.6" y2="2365" stroke="#333" stroke-width="4.0"/>
<line x1="699.4" y1="2354.4" x2="699.4" y2="2365" stroke="#333" stroke-width="4.0"/>
<line x1="812.2" y1="2354.4" x2="812.2" y2="2365" stroke="#333" stroke-width="4.0"/>
<text x="200" y="2341.5" font-size="34.6" text-anchor="end">0</text>
<text x="200" y="2220.7" font-size="34.6" text-anchor="end">50</text>
<text x="200" y="2099.5" font-size="34.6" text-anchor="end">100</text>
<text x="200" y="1978.3" font-size="34.6" text-anchor="end">150</text>
<text x="200" y="1857.5" font-size="34.6" text-anchor="end">200</text>
<text x="259.3" y="2398.2" font-size="34.6" text-anchor="middle">1e-07</text>
<text x="360.6" y="2398.2" font-size="34.6" text-anchor="middle">1e-06</text>
<text x="473.5" y="2398.2" font-size="34.6" text-anchor="middle">2e-06</text>
<text x="586.6" y="2398.2" font-size="34.6" text-anchor="middle">3e-06</text>
<text x="699.4" y="2398.2" font-size="34.6" text-anchor="middle">4e-06</text>
<text x="812.2" y="2398.2" font-size="34.6" text-anchor="middle">5e-06</text>
<text x="541.3" y="2447.6" font-size="43.6" text-anchor="middle">Echo intensity</text>
<text transform="translate(56.2 2086) rotate(-90)" font-size="43.6" text-anchor="middle"><tspan font-style="italic">Pagrus major</tspan> eDNA</text>
<text transform="translate(114 2086) rotate(-90)" font-size="43.6" text-anchor="middle">(copies/ml water)</text>
</g>
<g id="panel8">
<path d="M1144.3 2288.7 C1149.2 2258.9 1163.3 2176.6 1173.9 2110 C1184.5 2043.4 1202.3 1925.8 1208 1889 L1208 2273.4 C1205.5 2275.3 1198 2281.4 1193 2285 C1188 2288.6 1182.7 2292.2 1178 2295 C1173.3 2297.8 1169.7 2299.2 1165 2301.5 C1160.3 2303.8 1152.5 2307.8 1150 2309 Z" fill="#BEBEBE" fill-opacity="0.5"/>
<path d="M1146.2 2303.4 C1151.5 2291.1 1167.7 2252.2 1178.1 2229.8 C1188.5 2207.4 1203.4 2179.1 1208.5 2169" fill="none" stroke="#FC4E07" stroke-width="4.2"/>
<path d="M1143 2337.5 L1143.4 2337.4 L1143.7 2337.3 L1144.1 2337.2 L1144.6 2337 L1145 2336.9 L1145.5 2336.8 L1146 2336.6 L1146.6 2336.5 L1147.1 2336.3 L1147.8 2336.1 L1148.4 2335.9 L1149.1 2335.7 L1149.8 2335.5 L1150.6 2335.3 L1151.4 2335 L1152.3 2334.8 L1153.2 2334.5 L1154.2 2334.2 L1155.2 2333.9 L1156.3 2333.5 L1157.4 2333.2 L1158.7 2332.8 L1160 2332.4 L1161.4 2332 L1162.8 2331.5 L1164.4 2331 L1166 2330.5 L1167.8 2329.9 L1169.6 2329.3 L1171.6 2328.7 L1173.6 2328 L1175.9 2327.3 L1178.2 2326.6 L1180.7 2325.8 L1183.3 2324.9 L1186.1 2324 L1189 2323.1 L1192.1 2322 L1195.5 2320.9 L1199 2319.8 L1202.7 2318.5 L1206.7 2317.2 L1210.8 2315.8 L1215.3 2314.4 L1220 2312.8 L1225 2311.1 L1230.3 2309.3 L1235.9 2307.5 L1241.8 2305.4 L1248.1 2303.3 L1254.8 2301.1 L1261.9 2298.7 L1269.4 2296.1 L1277.3 2293.4 L1285.8 2290.5 L1294.7 2287.5 L1304.2 2284.2 L1314.2 2280.8 L1324.9 2277.1 L1336.2 2273.2 L1348.2 2269.1 L1360.9 2264.8 L1374.3 2260.1 L1388.6 2255.2 L1403.7 2250 L1419.7 2244.4 L1436.7 2238.5 L1454.8 2232.3 L1473.9 2225.7 L1494.1 2218.7 L1515.6 2211.2 L1538.3 2203.3 L1562.5 2194.9 L1588 2186 L1615.1 2176.6 L1643.9 2166.6 L1674.4 2156 L1706.7 2144.8 L1740.9 2132.9 L1740.9 2305.8 L1706.7 2307.2 L1674.4 2308.5 L1643.9 2309.7 L1615.1 2310.9 L1588 2312.1 L1562.5 2313.2 L1538.3 2314.2 L1515.6 2315.2 L1494.1 2316.2 L1473.9 2317.1 L1454.8 2318 L1436.7 2318.8 L1419.7 2319.6 L1403.7 2320.4 L1388.6 2321.1 L1374.3 2321.8 L1360.9 2322.5 L1348.2 2323.2 L1336.2 2323.8 L1324.9 2324.4 L1314.2 2325 L1304.2 2325.5 L1294.7 2326 L1285.8 2326.5 L1277.3 2327 L1269.4 2327.5 L1261.9 2327.9 L1254.8 2328.4 L1248.1 2328.8 L1241.8 2329.2 L1235.9 2329.5 L1230.3 2329.9 L1225 2330.2 L1220 2330.6 L1215.3 2330.9 L1210.8 2331.2 L1206.7 2331.5 L1202.7 2331.8 L1199 2332.1 L1195.5 2332.3 L1192.1 2332.6 L1189 2332.8 L1186.1 2333 L1183.3 2333.3 L1180.7 2333.5 L1178.2 2333.7 L1175.9 2333.9 L1173.6 2334.1 L1171.6 2334.2 L1169.6 2334.4 L1167.8 2334.6 L1166 2334.7 L1164.4 2334.9 L1162.8 2335 L1161.4 2335.2 L1160 2335.3 L1158.7 2335.5 L1157.4 2335.6 L1156.3 2335.7 L1155.2 2335.8 L1154.2 2335.9 L1153.2 2336 L1152.3 2336.1 L1151.4 2336.2 L1150.6 2336.3 L1149.8 2336.4 L1149.1 2336.5 L1148.4 2336.6 L1147.8 2336.7 L1147.1 2336.8 L1146.6 2336.9 L1146 2336.9 L1145.5 2337 L1145 2337.1 L1144.6 2337.1 L1144.1 2337.2 L1143.7 2337.3 L1143.4 2337.3 L1143 2337.4 Z" fill="#BEBEBE" fill-opacity="0.5"/>
<path d="M1143 2337.4 L1143.4 2337.3 L1143.7 2337.2 L1144.1 2337.1 L1144.6 2337.1 L1145 2337 L1145.5 2336.8 L1146 2336.7 L1146.6 2336.6 L1147.1 2336.5 L1147.8 2336.4 L1148.4 2336.2 L1149.1 2336.1 L1149.8 2336 L1150.6 2335.8 L1151.4 2335.6 L1152.3 2335.5 L1153.2 2335.3 L1154.2 2335.1 L1155.2 2334.9 L1156.3 2334.7 L1157.4 2334.5 L1158.7 2334.2 L1160 2334 L1161.4 2333.7 L1162.8 2333.5 L1164.4 2333.2 L1166 2332.9 L1167.8 2332.6 L1169.6 2332.2 L1171.6 2331.9 L1173.6 2331.5 L1175.9 2331.1 L1178.2 2330.7 L1180.7 2330.3 L1183.3 2329.9 L1186.1 2329.4 L1189 2328.9 L1192.1 2328.4 L1195.5 2327.9 L1199 2327.3 L1202.7 2326.7 L1206.7 2326.1 L1210.8 2325.4 L1215.3 2324.7 L1220 2324 L1225 2323.2 L1230.3 2322.4 L1235.9 2321.6 L1241.8 2320.7 L1248.1 2319.7 L1254.8 2318.8 L1261.9 2317.7 L1269.4 2316.6 L1277.3 2315.5 L1285.8 2314.3 L1294.7 2313 L1304.2 2311.7 L1314.2 2310.3 L1324.9 2308.8 L1336.2 2307.3 L1348.2 2305.7 L1360.9 2304 L1374.3 2302.2 L1388.6 2300.3 L1403.7 2298.3 L1419.7 2296.2 L1436.7 2294.1 L1454.8 2291.8 L1473.9 2289.3 L1494.1 2286.8 L1515.6 2284.1 L1538.3 2281.3 L1562.5 2278.4 L1588 2275.3 L1615.1 2272 L1643.9 2268.6 L1674.4 2265 L1706.7 2261.2 L1740.9 2257.3" fill="none" stroke="#00AFBB" stroke-width="4.2" stroke-linejoin="round"/>
<circle cx="1208" cy="2238.4" r="8.1" fill="#FC4E07"/><circle cx="1208" cy="2312.7" r="8.1" fill="#FC4E07"/><circle cx="1139.4" cy="2296.7" r="8.1" fill="#FC4E07"/><circle cx="1143.3" cy="2308.3" r="8.1" fill="#FC4E07"/><circle cx="1140.8" cy="2321.8" r="8.1" fill="#FC4E07"/><circle cx="1136.9" cy="2327.4" r="8.1" fill="#FC4E07"/><circle cx="1141" cy="2333" r="8.1" fill="#FC4E07"/><circle cx="1137" cy="2336.5" r="8.1" fill="#FC4E07"/>
<circle cx="1143.3" cy="2338.9" r="8.1" fill="#00AFBB"/><circle cx="1147" cy="2339" r="8.1" fill="#00AFBB"/><circle cx="1151.1" cy="2337.7" r="8.1" fill="#00AFBB"/><circle cx="1740.9" cy="2011.9" r="8.1" fill="#00AFBB"/><circle cx="1740.9" cy="2335.7" r="8.1" fill="#00AFBB"/>
<line x1="1107.6" y1="1831" x2="1107.6" y2="2363" stroke="#000" stroke-width="4.3"/>
<line x1="1107.6" y1="2363" x2="1771.5" y2="2363" stroke="#000" stroke-width="4.3"/>
<line x1="1097" y1="2339" x2="1107.6" y2="2339" stroke="#333" stroke-width="4.0"/>
<line x1="1097" y1="2217.8" x2="1107.6" y2="2217.8" stroke="#333" stroke-width="4.0"/>
<line x1="1097" y1="2096.7" x2="1107.6" y2="2096.7" stroke="#333" stroke-width="4.0"/>
<line x1="1097" y1="1976" x2="1107.6" y2="1976" stroke="#333" stroke-width="4.0"/>
<line x1="1097" y1="1854.7" x2="1107.6" y2="1854.7" stroke="#333" stroke-width="4.0"/>
<line x1="1148.6" y1="2363" x2="1148.6" y2="2373.6" stroke="#333" stroke-width="4.0"/>
<line x1="1253.1" y1="2363" x2="1253.1" y2="2373.6" stroke="#333" stroke-width="4.0"/>
<line x1="1369.2" y1="2363" x2="1369.2" y2="2373.6" stroke="#333" stroke-width="4.0"/>
<line x1="1485.3" y1="2363" x2="1485.3" y2="2373.6" stroke="#333" stroke-width="4.0"/>
<line x1="1601.4" y1="2363" x2="1601.4" y2="2373.6" stroke="#333" stroke-width="4.0"/>
<line x1="1717.5" y1="2363" x2="1717.5" y2="2373.6" stroke="#333" stroke-width="4.0"/>
<text x="1087.3" y="2350.9" font-size="34.6" text-anchor="end">0</text>
<text x="1087.3" y="2229.7" font-size="34.6" text-anchor="end">20</text>
<text x="1087.3" y="2108.6" font-size="34.6" text-anchor="end">40</text>
<text x="1087.3" y="1987.9" font-size="34.6" text-anchor="end">60</text>
<text x="1087.3" y="1866.6" font-size="34.6" text-anchor="end">80</text>
<text x="1148.6" y="2407.7" font-size="34.6" text-anchor="middle">1e-07</text>
<text x="1253.1" y="2407.7" font-size="34.6" text-anchor="middle">1e-06</text>
<text x="1369.2" y="2407.7" font-size="34.6" text-anchor="middle">2e-06</text>
<text x="1485.3" y="2407.7" font-size="34.6" text-anchor="middle">3e-06</text>
<text x="1601.4" y="2407.7" font-size="34.6" text-anchor="middle">4e-06</text>
<text x="1717.5" y="2407.7" font-size="34.6" text-anchor="middle">5e-06</text>
<text x="1438.2" y="2455.6" font-size="43.6" text-anchor="middle">Echo intensity</text>
<text transform="translate(963.2 2096) rotate(-90)" font-size="43.6" text-anchor="middle"><tspan font-style="italic">Trachurus japonicus</tspan> eDNA</text>
<text transform="translate(1020.6 2095) rotate(-90)" font-size="43.6" text-anchor="middle">(copies/ml water)</text>
</g>
<g id="legend">
<text x="476.9" y="49.7" font-size="43.6">Depth layer</text>
<circle cx="494.3" cy="88.5" r="8.1" fill="#FC4E07"/>
<circle cx="494.3" cy="126.4" r="8.1" fill="#00AFBB"/>
<text x="530.4" y="102" font-size="39.9">Bottom</text>
<text x="530.4" y="140.6" font-size="39.9">Middle</text>
</g>
</svg>
</body>
</html>
